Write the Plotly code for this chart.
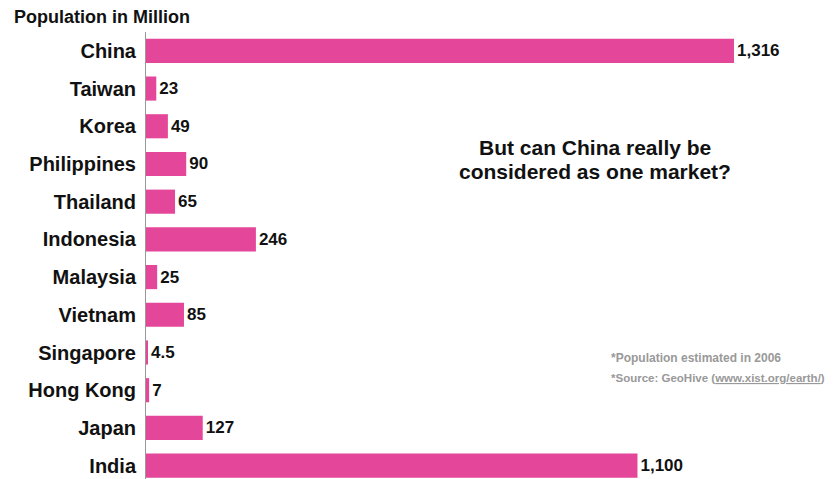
import plotly.graph_objects as go

countries = ["China", "Taiwan", "Korea", "Philippines", "Thailand", "Indonesia",
             "Malaysia", "Vietnam", "Singapore", "Hong Kong", "Japan", "India"]
population = [1316, 23, 49, 90, 65, 246, 25, 85, 4.5, 7, 127, 1100]
value_labels = ["1,316", "23", "49", "90", "65", "246", "25", "85", "4.5", "7", "127", "1,100"]

FONT = "Liberation Sans, Arial, sans-serif"
# the page body has an 8px default margin; lay out in page coords minus that offset
OFF = 8
W, H = 835 - OFF, 479 - OFF
L, T = 146 - OFF, 32 - OFF
PW, PH = W - L, H - T

fig = go.Figure(go.Bar(
    x=population, y=countries, orientation="h",
    marker=dict(color="#E4479A", line=dict(width=0)),
    text=value_labels, textposition="outside", cliponaxis=False,
    textfont=dict(family=FONT, size=17, color="#111111", weight="bold"),
    width=0.64,
))

def px(x):
    return (x - OFF - L) / PW

def py(y):
    return 1 - (y - OFF - T) / PH

fig.update_layout(
    width=W, height=H,
    margin=dict(l=L, r=0, t=T, b=0, autoexpand=False),
    paper_bgcolor="white", plot_bgcolor="white",
    showlegend=False,
    font=dict(family=FONT, color="#111111"),
    xaxis=dict(range=[0, PW / 0.4468], visible=False, showgrid=False, zeroline=False,
               automargin=False),
    yaxis=dict(range=[11.355, -0.5], showgrid=False, zeroline=False,
               automargin=False,
               showline=True, linecolor="#999999", linewidth=1,
               ticks="", ticklabelstandoff=5,
               tickfont=dict(family=FONT, size=20, color="#111111", weight="bold")),
    annotations=[
        dict(text="<b>Population in Million</b>", xref="paper", yref="paper",
             x=px(12), y=py(17), xanchor="left", yanchor="middle",
             showarrow=False, font=dict(family=FONT, size=18, color="#111111")),
        dict(text="<b>But can China really be</b>",
             xref="paper", yref="paper", x=px(595), y=py(147),
             xanchor="center", yanchor="middle", showarrow=False,
             font=dict(family=FONT, size=21, color="#111111")),
        dict(text="<b>considered as one market?</b>",
             xref="paper", yref="paper", x=px(595), y=py(171),
             xanchor="center", yanchor="middle", showarrow=False,
             font=dict(family=FONT, size=21, color="#111111")),
        dict(text="<b>*Population estimated in 2006</b>",
             xref="paper", yref="paper", x=px(609), y=py(358),
             xanchor="left", yanchor="middle", align="left", showarrow=False,
             font=dict(family=FONT, size=12, color="#999999")),
        dict(text="<b>*Source: GeoHive (<span style='text-decoration:underline'>www.xist.org/earth/</span>)</b>",
             xref="paper", yref="paper", x=px(609), y=py(378),
             xanchor="left", yanchor="middle", align="left", showarrow=False,
             font=dict(family=FONT, size=11.5, color="#999999")),
    ],
)

fig.write_html("out.html")
